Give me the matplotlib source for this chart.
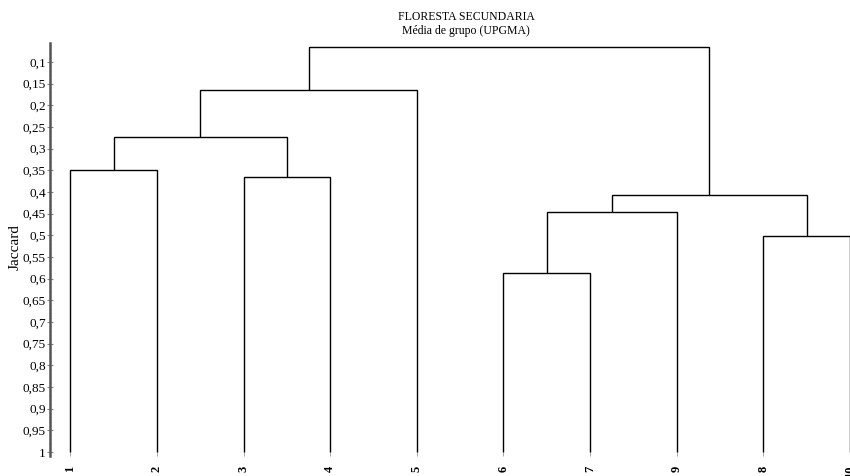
import matplotlib
matplotlib.use("Agg")
import matplotlib.pyplot as plt
import numpy as np

plt.rcParams['font.family'] = ['Liberation Serif', 'DejaVu Serif']

# ---- data ----
leaf_labels = ['1', '2', '3', '4', '5', '6', '7', '9', '8', '10']
# linkage: (left child, right child, Jaccard height); children < 10 are leaves (in display order)
merge_left = [0, 2, 10, 12, 5, 14, 8, 15, 13]
merge_right = [1, 3, 11, 4, 6, 7, 9, 16, 17]
merge_height = [0.35, 0.366, 0.273, 0.165, 0.587, 0.447, 0.501, 0.406, 0.066]
ytick_values = [0.1, 0.15, 0.2, 0.25, 0.3, 0.35, 0.4, 0.45, 0.5, 0.55,
                0.6, 0.65, 0.7, 0.75, 0.8, 0.85, 0.9, 0.95, 1.0]
ytick_labels = ['0,1', '0,15', '0,2', '0,25', '0,3', '0,35', '0,4', '0,45', '0,5',
                '0,55', '0,6', '0,65', '0,7', '0,75', '0,8', '0,85', '0,9', '0,95', '1']
title_lines = ['FLORESTA SECUNDARIA', 'Média de grupo (UPGMA)']
ylabel = 'Jaccard'
leaf_height = 1.0

W, H = 850, 476
fig = plt.figure(figsize=(W / 100, H / 100), dpi=100)
ax = fig.add_axes([50 / W, 1 - 456 / H, 1 - 50 / W, (456 - 43) / H])

n = len(leaf_labels)
xpos = {i: float(i + 1) for i in range(n)}
ypos = {i: leaf_height for i in range(n)}
for k, (a, b, h) in enumerate(zip(merge_left, merge_right, merge_height)):
    node = n + k
    ax.plot([xpos[a], xpos[a], xpos[b], xpos[b]],
            [ypos[a], h, h, ypos[b]], color='black', lw=1.0,
            solid_joinstyle='miter', solid_capstyle='butt')
    xpos[node] = (xpos[a] + xpos[b]) / 2
    ypos[node] = h

spacing = 87.2
ax.set_xlim(1 - 20.5 / spacing, 1 + (850 - 70.5) / spacing)
ax.set_ylim(1.0 + 4 / 433.3, 0.056)

for s in ['top', 'right', 'bottom']:
    ax.spines[s].set_visible(False)
ax.spines['left'].set_color('#555555')
ax.spines['left'].set_linewidth(1.8)

ax.set_yticks(ytick_values)
ax.set_yticklabels(ytick_labels, fontsize=9.5)
ax.set_yticks(np.arange(0.06, 1.0, 0.01), minor=True)
ax.tick_params(axis='y', which='major', direction='inout', length=4, width=0.8,
               color='#888888', pad=1)
ax.tick_params(axis='y', which='minor', direction='inout', length=2, width=0.5,
               color='#aaaaaa')

ax.set_xticks([xpos[i] for i in range(n)])
ax.set_xticklabels(leaf_labels, rotation=90, fontsize=9, fontweight='bold',
                   va='top', ha='center')
ax.tick_params(axis='x', which='major', direction='in', length=3, width=0.6,
               color='#999999', pad=7)

fig.text(15 / W, 1 - 247 / H, ylabel, rotation=90, fontsize=11,
         ha='center', va='center')
fig.text(466 / W, 1 - 17 / H, title_lines[0], fontsize=8.5, ha='center', va='center')
fig.text(466 / W, 1 - 31 / H, title_lines[1], fontsize=8.5, ha='center', va='center')

fig.savefig('out.png', dpi=100)
